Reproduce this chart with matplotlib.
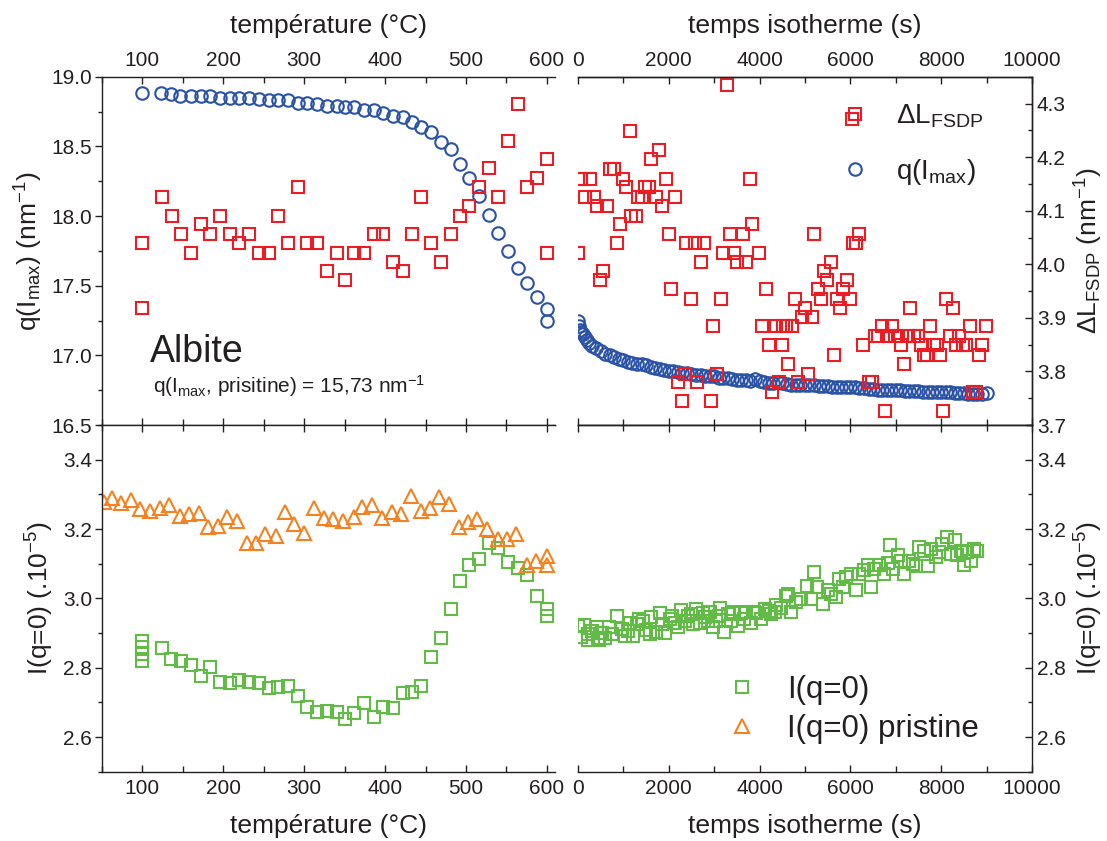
import matplotlib
matplotlib.use('Agg')
import matplotlib.pyplot as plt
from matplotlib.ticker import MultipleLocator, FormatStrFormatter

plt.rcParams['font.family'] = ['Liberation Sans', 'DejaVu Sans']
plt.rcParams['mathtext.default'] = 'regular'

# ---- data : heating ramp (temperature, degC) ----
temp_q = [100, 123, 135, 147, 160, 172, 184, 196, 208, 220, 232, 244, 256, 268,
          280, 292, 304, 316, 328, 340, 350, 362, 374, 386, 398, 410, 422, 433,
          445, 457, 469, 481, 493, 504, 516, 528, 540, 552, 564, 576, 588, 600, 600]
q_imax = [18.88, 18.88, 18.876, 18.86, 18.86, 18.86, 18.86, 18.845, 18.845, 18.845,
          18.845, 18.84, 18.83, 18.83, 18.83, 18.81, 18.81, 18.805, 18.79, 18.79,
          18.78, 18.78, 18.76, 18.76, 18.74, 18.72, 18.71, 18.675, 18.64, 18.605,
          18.535, 18.48, 18.375, 18.275, 18.146, 18.01, 17.875, 17.75, 17.63, 17.52,
          17.42, 17.335, 17.25]

temp_dl = [100, 100, 124, 136, 148, 160, 172, 184, 196, 208, 220, 232, 244, 256,
           268, 280, 292, 304, 316, 328, 340, 350, 362, 374, 386, 398, 410, 422,
           433, 445, 457, 469, 481, 493, 504, 516, 528, 540, 552, 564, 576, 588,
           600, 600]
dl_temp = [4.040, 3.918, 4.126, 4.091, 4.057, 4.022, 4.075, 4.057, 4.091, 4.057,
           4.040, 4.057, 4.022, 4.022, 4.091, 4.040, 4.144, 4.040, 4.040, 3.988,
           4.022, 3.971, 4.022, 4.022, 4.057, 4.057, 4.005, 3.988, 4.057, 4.126,
           4.040, 4.005, 4.057, 4.091, 4.109, 4.144, 4.179, 4.126, 4.230, 4.300,
           4.144, 4.161, 4.196, 4.022]

temp_i0 = [100, 100, 100, 100, 124, 135, 148, 160, 172, 184, 196, 208, 220, 232,
           244, 256, 268, 280, 292, 304, 316, 328, 340, 350, 362, 374, 386, 398,
           410, 422, 433, 445, 457, 469, 481, 493, 504, 516, 528, 540, 552, 564,
           576, 588, 600, 600]
i0_temp = [2.878, 2.859, 2.839, 2.820, 2.857, 2.825, 2.818, 2.808, 2.775, 2.801,
           2.760, 2.755, 2.764, 2.760, 2.755, 2.741, 2.745, 2.748, 2.719, 2.688,
           2.671, 2.674, 2.671, 2.652, 2.668, 2.697, 2.659, 2.687, 2.685, 2.726,
           2.729, 2.746, 2.830, 2.887, 2.969, 3.049, 3.097, 3.113, 3.159, 3.145,
           3.104, 3.089, 3.068, 3.008, 2.969, 2.950]

temp_pr = [52, 62, 74, 86, 97, 109, 122, 133, 146, 158, 170, 181, 194, 205, 217,
           229, 241, 252, 265, 276, 288, 300, 312, 324, 336, 348, 361, 372, 384,
           396, 408, 420, 432, 444, 456, 467, 479, 491, 503, 514, 526, 539, 551,
           562, 575, 587, 600, 600]
i0_pristine = [3.277, 3.289, 3.274, 3.284, 3.258, 3.253, 3.261, 3.270, 3.238, 3.243,
               3.245, 3.207, 3.210, 3.234, 3.222, 3.161, 3.159, 3.186, 3.181, 3.248,
               3.214, 3.190, 3.261, 3.232, 3.229, 3.222, 3.234, 3.264, 3.270, 3.232,
               3.248, 3.243, 3.296, 3.253, 3.262, 3.291, 3.272, 3.207, 3.219, 3.229,
               3.200, 3.171, 3.171, 3.186, 3.097, 3.109, 3.097, 3.123]

# ---- data : isotherm (time, s) ----
time_q = [0, 25, 50, 75, 100, 150, 200, 250, 300, 400, 500, 600, 700, 800, 900,
          1000, 1100, 1200, 1300, 1400, 1500, 1600, 1700, 1800, 1900, 2000, 2100,
          2200, 2300, 2400, 2500, 2600, 2700, 2800, 2900, 3000, 3100, 3200, 3300,
          3400, 3500, 3600, 3700, 3800, 3900, 4000, 4100, 4200, 4300, 4400, 4500,
          4600, 4700, 4800, 4900, 5000, 5100, 5200, 5300, 5400, 5500, 5600, 5700,
          5800, 5900, 6000, 6100, 6200, 6300, 6400, 6500, 6600, 6700, 6800, 6900,
          7000, 7100, 7200, 7300, 7400, 7500, 7600, 7700, 7800, 7900, 8000, 8100,
          8200, 8300, 8400, 8500, 8600, 8700, 8800, 8900, 9000]
q_iso = [17.25, 17.21, 17.18, 17.165, 17.15, 17.13, 17.11, 17.09, 17.07, 17.05,
         17.03, 17.01, 17.0, 16.99, 16.975, 16.965, 16.955, 16.945, 16.94, 16.935,
         16.93, 16.92, 16.91, 16.905, 16.895, 16.89, 16.885, 16.88, 16.875, 16.87,
         16.865, 16.86, 16.86, 16.855, 16.85, 16.85, 16.84, 16.835, 16.835, 16.83,
         16.825, 16.82, 16.82, 16.815, 16.83, 16.815, 16.81, 16.805, 16.8, 16.81,
         16.8, 16.795, 16.79, 16.79, 16.79, 16.79, 16.785, 16.785, 16.78, 16.78,
         16.78, 16.775, 16.775, 16.77, 16.77, 16.775, 16.77, 16.765, 16.765, 16.76,
         16.76, 16.755, 16.75, 16.755, 16.75, 16.75, 16.75, 16.745, 16.745, 16.745,
         16.745, 16.74, 16.74, 16.74, 16.735, 16.735, 16.74, 16.735, 16.73, 16.73,
         16.73, 16.725, 16.72, 16.72, 16.725, 16.73]

time_dl = [0, 0, 74, 147, 272, 346, 419, 493, 551, 640, 713, 787, 860, 919, 993,
           1066, 1140, 1162, 1272, 1324, 1412, 1485, 1559, 1618, 1713, 1787, 1860,
           1934, 2000, 2059, 2140, 2206, 2287, 2353, 2390, 2500, 2574, 2632, 2721,
           2779, 2926, 2985, 3059, 3140, 3199, 3287, 3353, 3427, 3493, 3632, 3706,
           3779, 3838, 3985, 4059, 4140, 4206, 4265, 4353, 4426, 4500, 4513, 4574,
           4632, 4706, 4779, 4853, 4926, 5000, 5074, 5147, 5206, 5279, 5353, 5419,
           5493, 5566, 5632, 5699, 5772, 5846, 5919, 6000, 6044, 6051, 6125, 6199,
           6272, 6405, 6478, 6552, 6618, 6691, 6765, 6838, 6912, 6985, 7059, 7118,
           7191, 7265, 7324, 7412, 7485, 7552, 7625, 7699, 7757, 7838, 7912, 7971,
           8044, 8110, 8184, 8257, 8331, 8404, 8478, 8551, 8625, 8699, 8772, 8831,
           8905, 8978]
dl_iso = [4.160, 4.022, 4.160, 4.126, 4.160, 4.126, 4.109, 3.971, 3.988, 4.109,
          4.178, 4.178, 4.040, 4.075, 4.160, 4.144, 4.248, 4.091, 4.091, 4.126,
          4.126, 4.144, 4.144, 4.196, 4.126, 4.213, 4.109, 4.160, 4.057, 3.953,
          4.126, 3.780, 3.745, 3.796, 4.040, 3.936, 4.040, 3.780, 4.005, 4.040,
          3.745, 3.884, 3.796, 3.936, 4.022, 4.335, 4.057, 4.022, 4.005, 4.057,
          4.005, 4.160, 4.075, 4.022, 3.884, 3.953, 3.849, 3.762, 3.884, 3.780,
          3.849, 3.884, 3.884, 3.814, 3.884, 3.936, 3.780, 3.901, 3.918, 3.796,
          3.901, 4.057, 3.953, 3.936, 3.988, 3.971, 4.005, 3.831, 3.936, 3.918,
          3.953, 3.971, 3.936, 4.272, 4.040, 4.040, 4.057, 3.849, 3.780, 3.780,
          3.866, 3.866, 3.884, 3.727, 3.866, 3.884, 3.866, 3.866, 3.849, 3.814,
          3.866, 3.918, 3.866, 3.866, 3.849, 3.831, 3.831, 3.884, 3.849, 3.849,
          3.831, 3.727, 3.936, 3.866, 3.918, 3.849, 3.866, 3.849, 3.849, 3.884,
          3.762, 3.762, 3.831, 3.849, 3.884]

time_i0 = [0, 60, 139, 220, 227, 300, 410, 432, 470, 520, 593, 681, 740, 850, 960,
           1033, 1100, 1143, 1216, 1290, 1350, 1436, 1500, 1582, 1619, 1729, 1802,
           1850, 1912, 2022, 2070, 2132, 2205, 2278, 2352, 2425, 2480, 2535, 2608,
           2681, 2755, 2800, 2864, 2901, 2974, 3047, 3100, 3135, 3208, 3304, 3380,
           3414, 3524, 3597, 3650, 3707, 3817, 3880, 3927, 4036, 4110, 4200, 4256,
           4330, 4366, 4476, 4586, 4623, 4696, 4806, 4916, 5048, 5136, 5194, 5267,
           5392, 5502, 5575, 5685, 5758, 5832, 5905, 6015, 6125, 6198, 6308, 6381,
           6454, 6527, 6637, 6747, 6820, 6879, 6930, 7040, 7113, 7172, 7296, 7370,
           7450, 7516, 7626, 7714, 7772, 7882, 7955, 8029, 8139, 8212, 8300, 8359,
           8432, 8505, 8564, 8652, 8725, 8798]
i0_iso = [2.921, 2.890, 2.924, 2.880, 2.897, 2.905, 2.916, 2.887, 2.880, 2.900,
          2.885, 2.916, 2.897, 2.948, 2.911, 2.892, 2.905, 2.930, 2.892, 2.925,
          2.940, 2.935, 2.910, 2.897, 2.945, 2.902, 2.958, 2.925, 2.900, 2.940,
          2.950, 2.930, 2.916, 2.967, 2.935, 2.948, 2.955, 2.925, 2.968, 2.930,
          2.958, 2.945, 2.935, 2.962, 2.916, 2.935, 2.950, 2.973, 2.902, 2.954,
          2.935, 2.962, 2.920, 2.958, 2.940, 2.962, 2.928, 2.960, 2.958, 2.940,
          2.968, 2.965, 2.954, 2.960, 2.980, 2.973, 3.008, 3.013, 2.960, 2.989,
          2.999, 3.036, 2.999, 3.077, 3.034, 2.985, 3.023, 3.013, 3.004, 3.055,
          3.032, 3.061, 3.071, 3.023, 3.069, 3.081, 3.095, 3.032, 3.086, 3.095,
          3.069, 3.103, 3.154, 3.086, 3.124, 3.109, 3.071, 3.109, 3.100, 3.093,
          3.148, 3.138, 3.093, 3.143, 3.119, 3.134, 3.157, 3.176, 3.128, 3.167,
          3.125, 3.138, 3.095, 3.134, 3.109, 3.143, 3.138]

BLUE = '#2a52a6'
RED = '#ec1c24'
GREEN = '#62bb46'
ORANGE = '#f58220'
INK = '#231f20'

mk = dict(linestyle='none', markerfacecolor='none', markeredgewidth=1.5)
MS_CIRC, MS_SQ, MS_TRI = 9, 8, 9.5


def style_x(ax, lim, major, minor, top_labels):
    ax.set_xlim(*lim)
    ax.xaxis.set_major_locator(MultipleLocator(major))
    ax.xaxis.set_minor_locator(MultipleLocator(minor))
    ax.tick_params(axis='x', which='both', direction='in', top=True, bottom=True,
                   labeltop=top_labels, labelbottom=not top_labels,
                   labelsize=15, colors=INK, width=1.0, pad=5)
    ax.tick_params(axis='x', which='major', length=5)
    ax.tick_params(axis='x', which='minor', length=4)
    if top_labels:
        ax.xaxis.set_label_position('top')


def style_y(ax, lim, major, minor, fmt, side):
    ax.set_ylim(*lim)
    ax.yaxis.set_major_locator(MultipleLocator(major))
    ax.yaxis.set_minor_locator(MultipleLocator(minor))
    ax.yaxis.set_major_formatter(FormatStrFormatter(fmt))
    if side == 'left':
        ax.tick_params(axis='y', which='both', direction='out', left=True, right=False,
                       labelleft=True, labelright=False, labelsize=15, colors=INK,
                       width=1.0, pad=2)
    else:
        ax.yaxis.set_label_position('right')
        ax.tick_params(axis='y', which='both', direction='in', left=False, right=True,
                       labelleft=False, labelright=True, labelsize=15, colors=INK,
                       width=1.0, pad=3.5)
    ax.tick_params(axis='y', which='major', length=5)
    ax.tick_params(axis='y', which='minor', length=3)


fig = plt.figure(figsize=(11.07, 8.41), dpi=100)
ax_tl = fig.add_axes([0.0921, 0.4946, 0.4092, 0.4141])
ax_tr = fig.add_axes([0.5221, 0.4946, 0.4101, 0.4141])
ax_bl = fig.add_axes([0.0921, 0.0824, 0.4092, 0.4122])
ax_br = fig.add_axes([0.5221, 0.0824, 0.4101, 0.4122])
ax_tl2 = ax_tl.twinx()
ax_tr2 = ax_tr.twinx()

for ax in (ax_tl, ax_tr, ax_bl, ax_br, ax_tl2, ax_tr2):
    for sp in ax.spines.values():
        sp.set_linewidth(1.0)
        sp.set_color(INK)

# top left : q(Imax) and dL versus temperature
ax_tl.plot(temp_q, q_imax, marker='o', markersize=MS_CIRC, markeredgecolor=BLUE, **mk)
ax_tl2.plot(temp_dl, dl_temp, marker='s', markersize=MS_SQ, markeredgecolor=RED, **mk)
style_x(ax_tl, (50, 610), 100, 50, True)
style_y(ax_tl, (16.5, 19.0), 0.5, 0.25, '%.1f', 'left')
ax_tl.spines['right'].set_visible(False)
ax_tl2.set_ylim(3.7, 4.35)
ax_tl2.axis('off')
ax_tl.set_xlabel('température (°C)', fontsize=19, color=INK, labelpad=13)
ax_tl.set_ylabel('q(I$_{max}$) (nm$^{-1}$)', fontsize=19, color=INK, labelpad=5)
ax_tl.text(0.106, 0.181, 'Albite', transform=ax_tl.transAxes, fontsize=27,
           color=INK, va='baseline')
ax_tl.text(0.112, 0.092, 'q(I$_{max}$, prisitine) = 15,73 nm$^{-1}$',
           transform=ax_tl.transAxes, fontsize=15, color=INK, va='baseline')

# top right : isotherm
h_q, = ax_tr.plot(time_q, q_iso, marker='o', markersize=MS_CIRC, markeredgecolor=BLUE, **mk)
h_dl, = ax_tr2.plot(time_dl, dl_iso, marker='s', markersize=MS_SQ, markeredgecolor=RED, **mk)
style_x(ax_tr, (0, 10000), 2000, 1000, True)
ax_tr.set_ylim(16.5, 19.0)
ax_tr.tick_params(axis='y', which='both', left=False, right=False,
                  labelleft=False, labelright=False)
ax_tr.spines['left'].set_visible(False)
ax_tr2.spines['left'].set_visible(False)
style_y(ax_tr2, (3.7, 4.35), 0.1, 0.05, '%.1f', 'right')
ax_tr.set_xlabel('temps isotherme (s)', fontsize=19, color=INK, labelpad=13)
ax_tr2.set_ylabel('ΔL$_{FSDP}$ (nm$^{-1}$)', fontsize=19, color=INK, labelpad=5)
ax_tr2.legend([h_dl, h_q], ['ΔL$_{FSDP}$', 'q(I$_{max}$)'], loc='upper right',
              bbox_to_anchor=(0.892, 0.925), frameon=False, fontsize=20,
              handlelength=1.0, handletextpad=0.97, labelspacing=0.95,
              borderpad=0, borderaxespad=0, labelcolor=INK)

# bottom left : I(q=0) versus temperature
h_i0, = ax_bl.plot(temp_i0, i0_temp, marker='s', markersize=MS_SQ, markeredgecolor=GREEN, **mk)
h_pr, = ax_bl.plot(temp_pr, i0_pristine, marker='^', markersize=MS_TRI,
                   markeredgecolor=ORANGE, **mk)
style_x(ax_bl, (50, 610), 100, 50, False)
style_y(ax_bl, (2.5, 3.5), 0.2, 0.1, '%.1f', 'left')
ax_bl.spines['right'].set_visible(False)
ax_bl.set_xlabel('température (°C)', fontsize=19, color=INK, labelpad=12)
ax_bl.set_ylabel('I(q=0) (.10$^{-5}$)', fontsize=19, color=INK, labelpad=5)

# bottom right : I(q=0) isotherm
ax_br.plot(time_i0, i0_iso, marker='s', markersize=MS_SQ, markeredgecolor=GREEN, **mk)
style_x(ax_br, (0, 10000), 2000, 1000, False)
style_y(ax_br, (2.5, 3.5), 0.2, 0.1, '%.1f', 'right')
ax_br.spines['left'].set_visible(False)
ax_br.set_xlabel('temps isotherme (s)', fontsize=19, color=INK, labelpad=12)
ax_br.set_ylabel('I(q=0) (.10$^{-5}$)', fontsize=19, color=INK, labelpad=5)
ax_br.legend([h_i0, h_pr], ['I(q=0)', 'I(q=0) pristine'], loc='upper right',
             bbox_to_anchor=(0.883, 0.28), frameon=False, fontsize=22.5,
             handlelength=1.0, handletextpad=0.94, labelspacing=0.3,
             borderpad=0, borderaxespad=0, labelcolor=INK)

fig.savefig('out.png', dpi=100)
